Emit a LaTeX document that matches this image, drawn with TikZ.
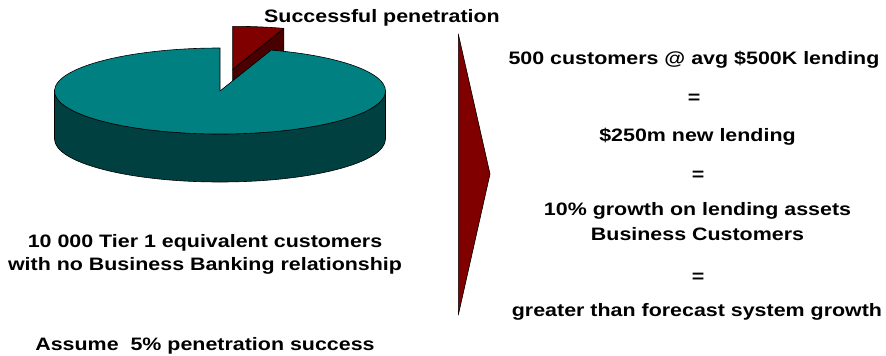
\documentclass[tikz,border=0pt]{standalone}
\usepackage{fontspec}
\setmainfont{Liberation Sans}[FakeStretch=1.19]
\usetikzlibrary{calc}
\definecolor{pietop}{HTML}{008080}
\definecolor{pieside}{HTML}{004040}
\definecolor{slicetop}{HTML}{800000}
\definecolor{sliceside}{HTML}{4A0000}
\begin{document}
\begin{tikzpicture}[x=1pt,y=-1pt,
  lbl/.style={font=\fontsize{18}{23.7}\selectfont\bfseries, inner sep=0pt, anchor=base, align=center},
  edge/.style={draw=black, line width=0.6pt, line join=round}]
\useasboundingbox (0,0) rectangle (886,356);
% exploded slice (5%)
\coordinate (sv) at (232.7,69.3);
\coordinate (sp) at ($(sv)+(288:165.5 and 43)$);
\fill[sliceside, edge] (sv) -- (sp) -- ++(0,48) -- ($(sv)+(0,48)$) -- cycle;
\fill[slicetop, edge] (sv) -- ++(270:165.5 and 43) arc[start angle=270, end angle=288, x radius=165.5, y radius=43] -- cycle;
% main pie side
\coordinate (pc) at (220,91);
\fill[pieside, edge] (54.5,91) -- (54.5,139) arc[start angle=180, end angle=0, x radius=165.5, y radius=43] -- (385.5,91) arc[start angle=0, end angle=180, x radius=165.5, y radius=43] -- cycle;
% main pie top
\fill[pietop, edge] (pc) -- ++(288:165.5 and 43) arc[start angle=288, end angle=630, x radius=165.5, y radius=43] -- cycle;
% chevron
\fill[slicetop, edge] (458.3,34) coordinate (ca) -- (490,174) coordinate (cb) -- (458.3,315) coordinate (cc) -- cycle;
% texts
\node[lbl] (title) at (382,22.5) {Successful penetration};
\node[lbl] (base) at (205,270.7) {10 000 Tier 1 equivalent customers\\with no Business Banking relationship};
\node[lbl] (assume) at (205,350) {Assume\ \ 5\% penetration success};
\node[lbl] (r1) at (694,64.3) {500 customers @ avg \$500K lending};
\node[lbl] (e1) at (694,103.8) {=};
\node[lbl] (r2) at (697.5,141.7) {\$250m new lending};
\node[lbl] (e2) at (698,180) {=};
\node[lbl, font=\fontsize{18}{25}\selectfont\bfseries] (r3) at (697.5,240.7) {10\% growth on lending assets\\Business Customers};
\node[lbl] (e3) at (698,282.8) {=};
\node[lbl] (r4) at (697,316.7) {greater than forecast system growth};
\end{tikzpicture}
\end{document}
